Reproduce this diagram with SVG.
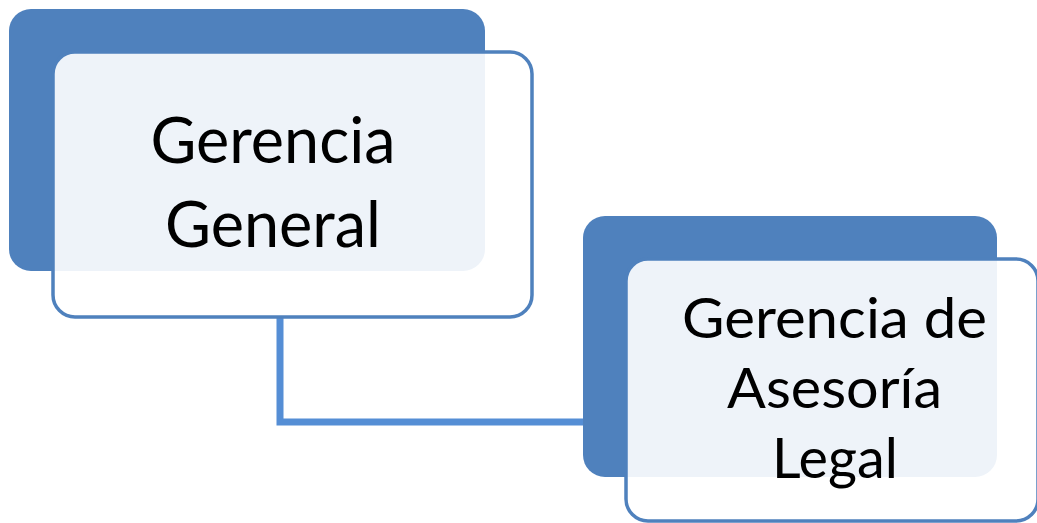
<svg xmlns="http://www.w3.org/2000/svg" width="1037" height="523" viewBox="0 0 1037 523">
  <style>
    .back { fill: #4F81BD; }
    .front { fill: #FFFFFF; fill-opacity: 0.9; stroke: #4F81BD; stroke-width: 3.5; }
    .link { fill: none; stroke: #558ED5; stroke-width: 7; stroke-linejoin: miter; }
    .label { font-family: Lato, "Open Sans", "Liberation Sans", sans-serif; fill: #000000; text-anchor: middle; }
    .big { font-size: 64px; }
    .mid { font-size: 56px; }
  </style>
  <rect width="1037" height="523" fill="#FFFFFF"/>

  <!-- connectors -->
  <g id="connectors">
    <polyline class="link" points="280,318 280,422 583,422"/>
  </g>

  <!-- node: Gerencia General -->
  <g id="node-gerencia-general">
    <rect class="back" x="9" y="9" width="476" height="262" rx="22"/>
    <rect class="front" x="53" y="52" width="479" height="265" rx="22"/>
    <text class="label big" x="273" y="163" textLength="245" lengthAdjust="spacingAndGlyphs">Gerencia</text>
    <text class="label big" x="273" y="247" textLength="216" lengthAdjust="spacingAndGlyphs">General</text>
  </g>

  <!-- node: Gerencia de Asesoría Legal -->
  <g id="node-asesoria-legal">
    <rect class="back" x="583" y="216" width="414" height="261" rx="22"/>
    <rect class="front" x="626" y="259" width="412" height="262" rx="22"/>
    <text class="label mid" x="834.5" y="338" textLength="305" lengthAdjust="spacingAndGlyphs">Gerencia de</text>
    <text class="label mid" x="834.5" y="408" textLength="215" lengthAdjust="spacingAndGlyphs">Asesoría</text>
    <text class="label mid" x="835" y="478" textLength="126" lengthAdjust="spacingAndGlyphs">Legal</text>
  </g>
</svg>
